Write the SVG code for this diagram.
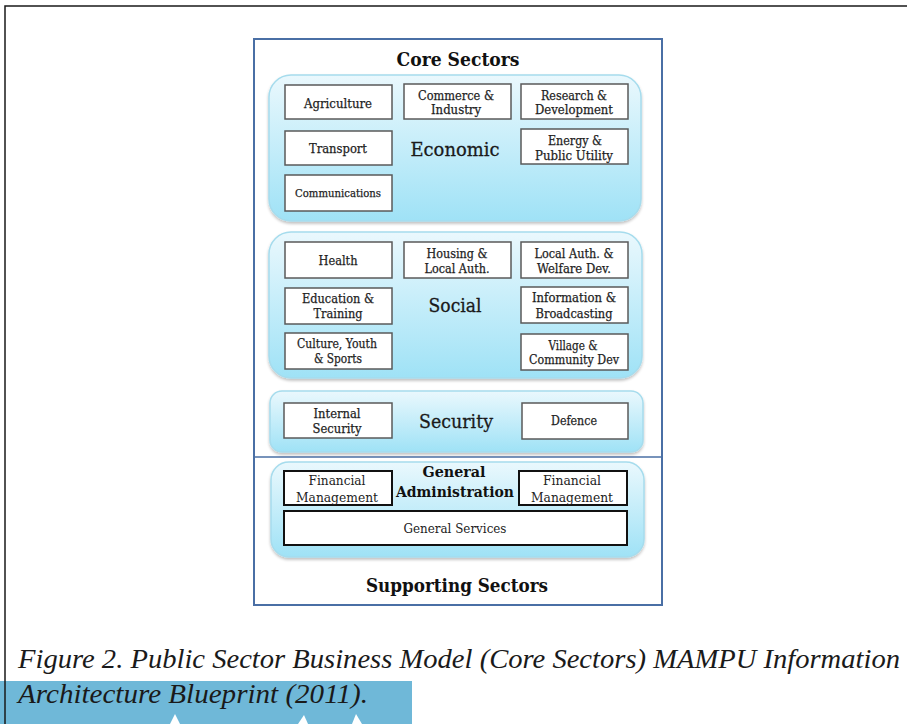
<svg xmlns="http://www.w3.org/2000/svg" width="907" height="724" viewBox="0 0 907 724">
<defs>
<linearGradient id="panelGrad" x1="0" y1="0" x2="0" y2="1">
<stop offset="0" stop-color="#eaf8fd"/>
<stop offset="1" stop-color="#9fe2f6"/>
</linearGradient>
<filter id="shadow" x="-5%" y="-5%" width="110%" height="115%">
<feGaussianBlur in="SourceAlpha" stdDeviation="1.5"/>
<feOffset dx="0" dy="2" result="b"/>
<feComponentTransfer><feFuncA type="linear" slope="0.25"/></feComponentTransfer>
<feMerge><feMergeNode/><feMergeNode in="SourceGraphic"/></feMerge>
</filter>
</defs>
<style>
.panel{fill:url(#panelGrad);stroke:#a6dced;stroke-width:1.5;filter:url(#shadow)}
.box{fill:#ffffff;stroke:#5a5a5a;stroke-width:1.5}
.boxd{fill:#ffffff;stroke:#111111;stroke-width:2}
.lbl{font-family:"DejaVu Serif","Liberation Serif",serif;font-size:12px;fill:#1e1e1e;stroke:#1e1e1e;stroke-width:0.25;text-anchor:middle}
.lbl2{font-family:"DejaVu Serif","Liberation Serif",serif;font-size:13px;fill:#222;text-anchor:middle}
.big{font-family:"DejaVu Serif","Liberation Serif",serif;font-size:19px;fill:#1a1a1a;stroke:#1a1a1a;stroke-width:0.3;text-anchor:middle}
.head{font-family:"DejaVu Serif","Liberation Serif",serif;font-size:18px;font-weight:bold;fill:#111;text-anchor:middle}
.ga{font-family:"DejaVu Serif","Liberation Serif",serif;font-size:15px;font-weight:bold;fill:#111;text-anchor:middle}
.cap{font-family:"Liberation Serif",serif;font-style:italic;font-size:28px;fill:#1a1a1a}
</style>
<rect x="0" y="0" width="907" height="724" fill="#ffffff"/>
<!-- page frame -->
<rect x="0" y="681" width="412" height="43" fill="#6fb8d8"/>
<g fill="#ffffff">
<polygon points="170,724 175,714 180,724"/>
<polygon points="298,724 304,715 308,724"/>
<polygon points="352,724 356,714 362,724"/>
</g>
<polyline points="5,724 5,6 907,6" fill="none" stroke="#1a1a1a" stroke-width="1.5"/>
<!-- main frame -->
<g id="frame">
<rect x="254" y="39" width="408" height="566" fill="#ffffff" stroke="#4a6fa5" stroke-width="2"/>
<line x1="254" y1="457" x2="663" y2="457" stroke="#4a6fa5" stroke-width="1.5"/>
<text class="head" x="458" y="66" textLength="123" lengthAdjust="spacingAndGlyphs">Core Sectors</text>
<text class="head" x="457" y="592" textLength="182" lengthAdjust="spacingAndGlyphs">Supporting Sectors</text>
</g>
<!-- Economic -->
<g id="economic">
<rect class="panel" x="269" y="75" width="372" height="146" rx="22"/>
<text class="big" x="455" y="156" textLength="89" lengthAdjust="spacingAndGlyphs">Economic</text>
</g>
<g id="agriculture"><rect class="box" x="285" y="85" width="107" height="34"/><text class="lbl" x="338" y="108" textLength="68" lengthAdjust="spacingAndGlyphs">Agriculture</text></g>
<g id="commerce"><rect class="box" x="404" y="84" width="107" height="35"/><text class="lbl" x="456" y="100" textLength="76" lengthAdjust="spacingAndGlyphs">Commerce &amp;</text><text class="lbl" x="456" y="114" textLength="50" lengthAdjust="spacingAndGlyphs">Industry</text></g>
<g id="research"><rect class="box" x="521" y="84" width="107" height="35"/><text class="lbl" x="574" y="100" textLength="66" lengthAdjust="spacingAndGlyphs">Research &amp;</text><text class="lbl" x="574" y="114" textLength="78" lengthAdjust="spacingAndGlyphs">Development</text></g>
<g id="transport"><rect class="box" x="285" y="131" width="107" height="34"/><text class="lbl" x="338" y="153" textLength="58" lengthAdjust="spacingAndGlyphs">Transport</text></g>
<g id="energy"><rect class="box" x="521" y="129" width="107" height="35"/><text class="lbl" x="575" y="145" textLength="54" lengthAdjust="spacingAndGlyphs">Energy &amp;</text><text class="lbl" x="574" y="160" textLength="78" lengthAdjust="spacingAndGlyphs">Public Utility</text></g>
<g id="communications"><rect class="box" x="285" y="175" width="107" height="36"/><text class="lbl" x="338" y="197" style="font-size:11px" textLength="86" lengthAdjust="spacingAndGlyphs">Communications</text></g>
<!-- Social -->
<g id="social">
<rect class="panel" x="269" y="232" width="373" height="146" rx="22"/>
<text class="big" x="455" y="312" textLength="53" lengthAdjust="spacingAndGlyphs">Social</text>
</g>
<g id="health"><rect class="box" x="285" y="242" width="107" height="36"/><text class="lbl" x="338" y="265" textLength="39" lengthAdjust="spacingAndGlyphs">Health</text></g>
<g id="housing"><rect class="box" x="404" y="242" width="107" height="36"/><text class="lbl" x="457" y="258" textLength="61" lengthAdjust="spacingAndGlyphs">Housing &amp;</text><text class="lbl" x="457" y="273" textLength="65" lengthAdjust="spacingAndGlyphs">Local Auth.</text></g>
<g id="localauth"><rect class="box" x="521" y="242" width="107" height="36"/><text class="lbl" x="574" y="258" textLength="79" lengthAdjust="spacingAndGlyphs">Local Auth. &amp;</text><text class="lbl" x="574" y="273" textLength="74" lengthAdjust="spacingAndGlyphs">Welfare Dev.</text></g>
<g id="education"><rect class="box" x="285" y="288" width="107" height="36"/><text class="lbl" x="338" y="303" textLength="72" lengthAdjust="spacingAndGlyphs">Education &amp;</text><text class="lbl" x="338" y="318" textLength="49" lengthAdjust="spacingAndGlyphs">Training</text></g>
<g id="information"><rect class="box" x="521" y="287" width="107" height="36"/><text class="lbl" x="574" y="302" textLength="84" lengthAdjust="spacingAndGlyphs">Information &amp;</text><text class="lbl" x="574" y="318" textLength="77" lengthAdjust="spacingAndGlyphs">Broadcasting</text></g>
<g id="culture"><rect class="box" x="285" y="333" width="107" height="36"/><text class="lbl" x="337" y="348" textLength="80" lengthAdjust="spacingAndGlyphs">Culture, Youth</text><text class="lbl" x="338" y="363" textLength="48" lengthAdjust="spacingAndGlyphs">&amp; Sports</text></g>
<g id="village"><rect class="box" x="521" y="334" width="107" height="36"/><text class="lbl" x="573" y="350" textLength="49" lengthAdjust="spacingAndGlyphs">Village &amp;</text><text class="lbl" x="574" y="364" textLength="90" lengthAdjust="spacingAndGlyphs">Community Dev</text></g>
<!-- Security -->
<g id="security">
<rect class="panel" x="270" y="391" width="373" height="61" rx="12"/>
<text class="big" x="456" y="428" textLength="74" lengthAdjust="spacingAndGlyphs">Security</text>
</g>
<g id="internal"><rect class="box" x="284" y="403" width="108" height="35"/><text class="lbl" x="337" y="418" textLength="47" lengthAdjust="spacingAndGlyphs">Internal</text><text class="lbl" x="337" y="433" textLength="49" lengthAdjust="spacingAndGlyphs">Security</text></g>
<g id="defence"><rect class="box" x="522" y="403" width="106" height="36"/><text class="lbl" x="574" y="425" textLength="46" lengthAdjust="spacingAndGlyphs">Defence</text></g>
<!-- General Administration -->
<g id="genadmin">
<rect class="panel" x="271" y="462" width="373" height="95" rx="18"/>
<text class="ga" x="454" y="477" textLength="63" lengthAdjust="spacingAndGlyphs">General</text>
<text class="ga" x="455" y="497" textLength="118" lengthAdjust="spacingAndGlyphs">Administration</text>
</g>
<g id="finmgmt1"><rect class="boxd" x="284" y="471" width="108" height="34"/><text class="lbl2" x="337" y="485" textLength="57" lengthAdjust="spacingAndGlyphs">Financial</text><text class="lbl2" x="337" y="502" textLength="82" lengthAdjust="spacingAndGlyphs">Management</text></g>
<g id="finmgmt2"><rect class="boxd" x="519" y="471" width="108" height="34"/><text class="lbl2" x="572" y="485" textLength="58" lengthAdjust="spacingAndGlyphs">Financial</text><text class="lbl2" x="572" y="502" textLength="82" lengthAdjust="spacingAndGlyphs">Management</text></g>
<g id="genservices"><rect class="boxd" x="284" y="511" width="343" height="34"/><text class="lbl2" x="455" y="533" textLength="103" lengthAdjust="spacingAndGlyphs">General Services</text></g>
<g id="connectors"></g>
<!-- caption -->
<text class="cap" x="18" y="668" textLength="882" lengthAdjust="spacingAndGlyphs">Figure 2. Public Sector Business Model (Core Sectors) MAMPU Information</text>
<text class="cap" x="18" y="703" textLength="350" lengthAdjust="spacingAndGlyphs">Architecture Blueprint (2011).</text>
</svg>
